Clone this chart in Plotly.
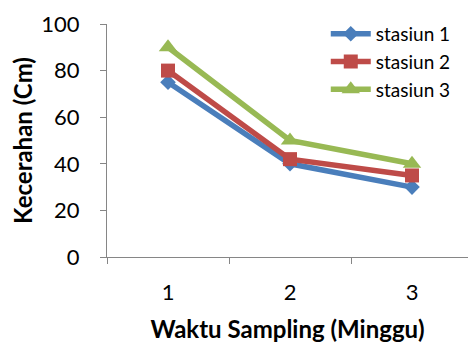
import plotly.graph_objects as go

# Sampling weeks and water clarity (Secchi depth, cm) at each station
weeks = ["1", "2", "3"]
stasiun_1 = [75, 40, 30]
stasiun_2 = [80, 42, 35]
stasiun_3 = [90, 50, 40]
y_ticks = [0, 20, 40, 60, 80, 100]

series = [
    ("stasiun 1", stasiun_1, "#4a7ebb", "diamond", 12),
    ("stasiun 2", stasiun_2, "#be4b48", "square", 14),
    ("stasiun 3", stasiun_3, "#98b954", "triangle-up", 16),
]

fig = go.Figure()
for name, vals, color, symbol, size in series:
    fig.add_trace(go.Scatter(
        x=weeks, y=vals, name=name, mode="lines+markers",
        line=dict(color=color, width=5.5),
        marker=dict(symbol=symbol, size=size, color=color),
    ))

axis_color = "#868686"
font_family = "Lato, 'Open Sans', sans-serif"

fig.update_layout(
    width=468, height=343,
    margin=dict(l=107, r=0, t=24, b=86),
    paper_bgcolor="white", plot_bgcolor="white",
    font=dict(family=font_family, color="black", size=22),
    showlegend=True,
    legend=dict(
        x=0.606, y=1.039, xanchor="left", yanchor="top",
        font=dict(size=19, color="black"),
        bgcolor="rgba(0,0,0,0)", tracegroupgap=0,
        itemwidth=40,
    ),
    xaxis=dict(
        type="category", range=[-0.5, 2.459],
        tickson="boundaries", ticks="outside", ticklen=6,
        tickcolor=axis_color, showline=True, linecolor=axis_color, linewidth=1,
        showgrid=False, zeroline=False,
        tickfont=dict(size=22), ticklabelstandoff=16,
        title=dict(text="<b>Waktu Sampling (Minggu)</b>", font=dict(size=24), standoff=17),
    ),
    yaxis=dict(
        range=[0, 100], tickvals=y_ticks, ticks="outside", ticklen=6,
        tickcolor=axis_color, showline=True, linecolor=axis_color, linewidth=1,
        showgrid=False, zeroline=False,
        tickfont=dict(size=22), ticklabelstandoff=16,
        title=dict(text="<b>Kecerahan (Cm)</b>", font=dict(size=24), standoff=1),
    ),
)

fig.write_html("out.html")
